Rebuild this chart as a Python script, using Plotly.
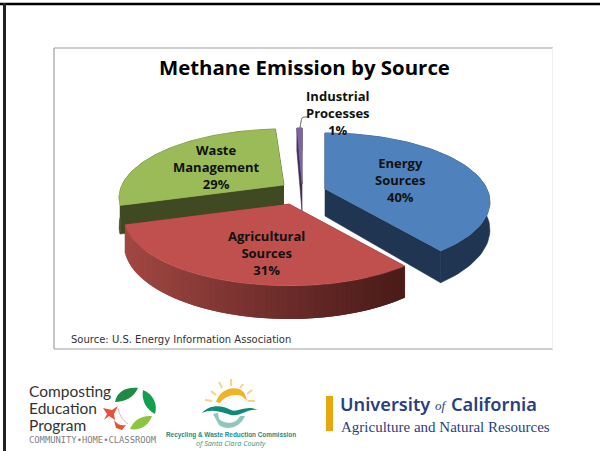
import math
import plotly.graph_objects as go

# ---- data ----
categories = ["Energy<br>Sources", "Agricultural<br>Sources", "Waste<br>Management", "Industrial<br>Processes"]
shares = [40, 31, 29, 1]
top_colors = ["#4F81BD", "#C0504D", "#9BBB59", "#8064A2"]
wall_colors = ["#1F3552", "#7A2F2D", "#3F4A22", "#3C2E55"]

# ---- geometry of the exploded, tilted pie (screen pixels) ----
apex = [(325, 189), (289, 204), (284, 185), (302, 184)]
width_scale = [1, 1, 1, 0.6]
RX, RY, K, DEPTH = 162, 66.5, 0.187, 27
label_pos = [(400, 180), (266, 253), (216, 167), (338, 113)]


def project(theta, r, cx, cy, down=0.0, wscale=1.0):
    u, v = r * math.sin(theta), -r * math.cos(theta)
    s = 1 / (1 - K * v)
    return cx + RX * wscale * u * s, cy + RY * v * s + down * s


def lerp_hex(a, b, t):
    ca = [int(a[i:i + 2], 16) for i in (1, 3, 5)]
    cb = [int(b[i:i + 2], 16) for i in (1, 3, 5)]
    return "#%02X%02X%02X" % tuple(round(p + (q - p) * t) for p, q in zip(ca, cb))


def poly(fig, pts, color, stroke=0.6):
    fig.add_trace(go.Scatter(x=[p[0] for p in pts], y=[p[1] for p in pts], mode="lines",
                             fill="toself", fillcolor=color,
                             line=dict(color=color, width=stroke),
                             hoverinfo="skip", showlegend=False))


fig = go.Figure()

total = sum(shares)
spans = []
start = 0.0
for v in shares:
    end = start + 2 * math.pi * v / total
    spans.append((start, end))
    start = end

for idx in [2, 3, 0, 1]:  # painter's order, back to front
    a0, a1 = spans[idx]
    cx, cy = apex[idx]
    w = width_scale[idx]
    n = 70
    angles = [a0 + (a1 - a0) * j / n for j in range(n + 1)]
    rim_top = [project(t, 1, cx, cy, 0, w) for t in angles]
    rim_low = [project(t, 1, cx, cy, DEPTH, w) for t in angles]
    # radial walls
    for t in (a0, a1):
        poly(fig, [(cx, cy), project(t, 1, cx, cy, 0, w), project(t, 1, cx, cy, DEPTH, w), (cx, cy + DEPTH)],
             wall_colors[idx])
    # outer wall
    if idx == 1:
        xs0, xs1 = rim_top[-1][0], rim_top[0][0]
        for j in range(n, 0, -1):
            f = (rim_top[j][0] - xs1) / (xs0 - xs1)
            c = lerp_hex("#4A1B19", "#A24743", f ** 1.15)
            # each band runs under the next one so that no seam shows
            k = max(j - 2, 0)
            poly(fig, [rim_top[k], rim_top[j], rim_low[j], rim_low[k]], c, stroke=0)
    else:
        poly(fig, rim_top + rim_low[::-1], wall_colors[idx])
    # top face
    poly(fig, [(cx, cy)] + rim_top, top_colors[idx])

# ---- leader line ----
fig.add_trace(go.Scatter(x=[300, 301, 302.5, 307], y=[128, 122, 117.5, 117], mode="lines",
                         line=dict(color="#666666", width=1, shape="spline"),
                         hoverinfo="skip", showlegend=False))

ann = []


def text(x, y, s, size, color="#111111", family="Open Sans", bold=False, anchor="center", italic=False, weight=None):
    t = s
    if bold:
        t = "<b>" + t + "</b>"
    if italic:
        t = "<i>" + t + "</i>"
    f = dict(family=family, size=size, color=color)
    if weight:
        f["weight"] = weight
    ann.append(dict(x=x - 2 if anchor == "left" else x, y=y, xref="x", yref="y", text=t, showarrow=False,
                    xanchor=anchor, yanchor="middle", align="center", font=f, borderpad=0))


text(304, 67, "Methane Emission by Source", 20.4, color="#000000", bold=True)
for name, v, (x, y) in zip(categories, shares, label_pos):
    text(x, y, f"{name}<br>{v}%", 13, bold=True)
text(72, 339, "Source: U.S. Energy Information Association", 10, color="#333333", family="DejaVu Sans", anchor="left")

text(30, 391, "Composting", 15.5, color="#333333", family="Lato", anchor="left")
text(30, 408, "Education", 15.5, color="#333333", family="Lato", anchor="left")
text(30, 425, "Program", 15.5, color="#333333", family="Lato", anchor="left")
text(30, 439.5, "COMMUNITY•HOME•CLASSROOM", 8.8, color="#808080", family="DejaVu Sans Mono", anchor="left")
text(231, 434.5, "Recycling &amp; Waste Reduction Commission", 6.4, color="#1F8A7C", family="Liberation Sans", bold=True)
text(231, 443, "of Santa Clara County", 7.2, color="#2C9A8C", italic=True)
text(341, 404, "University", 18.2, color="#2A3F7E", family="Noto Sans", anchor="left", weight=600)
text(436, 405, "of", 13, color="#2A3F7E", family="Liberation Serif", anchor="left", italic=True)
text(452, 404, "California", 18.2, color="#2A3F7E", family="Noto Sans", anchor="left", weight=600)
text(342, 427, "Agriculture and Natural Resources", 15, color="#2A3F7E", family="Liberation Serif", anchor="left")


def path(d, fill=None, line=None, width=1):
    return dict(type="path", path=d, xref="x", yref="y", layer="above",
                fillcolor=fill or "rgba(0,0,0,0)",
                line=dict(color=line or "rgba(0,0,0,0)", width=width))


def seg(x0, y0, x1, y1, color, width):
    return dict(type="line", x0=x0, y0=y0, x1=x1, y1=y1, xref="x", yref="y",
                line=dict(color=color, width=width))


shapes = [
    # slide frame
    seg(0, 4, 600, 4, "#000000", 2.5),
    seg(4.5, 3, 4.5, 451, "#222222", 3),
    # chart box
    seg(54, 48, 553, 48, "#A0A0A0", 1.2),
    seg(54, 48, 54, 349, "#A0A0A0", 1.2),
    seg(54, 349, 553, 349, "#A0A0A0", 1.2),
    seg(552.5, 48, 552.5, 349, "#EFEFEF", 1),
    # leaves
    path("M115,402 C117,392 125,387 138,388 C134,397 125,402 115,402 Z", fill="#1E8A45"),
    path("M143,390 C153,394 158,404 155,414 C147,410 141,401 143,390 Z", fill="#12A050"),
    path("M130,429 C133,421 141,415 152,416 C149,425 140,431 130,429 Z", fill="#8CC63F"),
    # red figure
    path("M103,408 L112,410 L118,406 L114,414 L115,420 L109,416 L104,420 L107,414 Z", fill="#E8503A"),
    path("M114,420 C118,425 122,426 126,425 L122,430 L116,428 Z", fill="#E8503A"),
    path("M118,408 C119,414 122,420 128,424", line="#F29A8A", width=0.8),
    # sun
    path("M216,402 C219,392 229,386 239,389 C245,391 246,397 247,401 L243,397 C238,393 225,395 220,403 Z", fill="#F0B323"),
    seg(205,400,212,401,"#F6D28A",2), seg(211,391,216,395,"#F6D28A",2), seg(219,382,222,388,"#F6D28A",2),
    seg(231,379,231,386,"#F6D28A",2), seg(243,384,240,388,"#F6D28A",2), seg(252,390,247,394,"#F6D28A",2),
    seg(248,401,255,401,"#F6D28A",2),
    # wave
    path("M202,413 C210,404 222,405 231,410 C238,413 246,404 258,410 C248,408 240,417 231,415 C222,412 212,408 202,413 Z", fill="#0E8A7A"),
    # return arrow
    path("M213,414 L219,425 C227,431 240,428 245,416 L240,416 C236,424 226,425 219,419 L218,413 Z", fill="#8FC7BE"),
    # UC bar
    dict(type="rect", x0=326, x1=333, y0=396, y1=431, xref="x", yref="y",
         fillcolor="#E9A70E", line=dict(width=0)),
]

fig.update_layout(
    width=600, height=451, autosize=False,
    margin=dict(l=0, r=0, t=0, b=0), paper_bgcolor="#FFFFFF", plot_bgcolor="#FFFFFF",
    showlegend=False, annotations=ann, shapes=shapes,
    xaxis=dict(range=[0, 600], visible=False, fixedrange=True),
    yaxis=dict(range=[451, 0], visible=False, fixedrange=True),
)
fig.write_html("out.html", config={"displayModeBar": False},
               post_script="document.body.style.margin='0';document.body.style.overflow='hidden';")
